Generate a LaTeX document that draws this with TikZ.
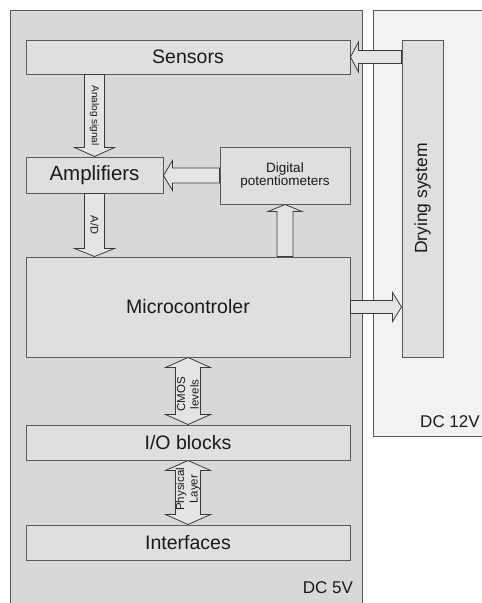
\documentclass[tikz,border=0pt]{standalone}
\usepackage{fontspec}
\setmainfont{Liberation Sans}
\usepackage{tikz}
\usetikzlibrary{calc,positioning}

\definecolor{zonefive}{HTML}{D8D8D8}
\definecolor{zonetwelve}{HTML}{F2F2F2}
\definecolor{boxfill}{HTML}{DFDFDF}
\definecolor{edgegray}{HTML}{5A5A5A}
\definecolor{arrowedge}{HTML}{3A3A3A}
\definecolor{arrowfill}{HTML}{E4E4E4}
\definecolor{inkgray}{HTML}{1A1A1A}

% hollow block arrow: #1 shaft half width, #2 head half width, #3 head length, #4 from, #5 to
\newcommand{\fatarrow}[5]{%
  \coordinate (fa-b) at ($(#5)!#3!(#4)$);
  \filldraw[fat] ($(#4)!#1!90:(#5)$) -- ($(fa-b)!#1!90:(#5)$) -- ($(fa-b)!#2!90:(#5)$)
    -- (#5) -- ($(fa-b)!#2!-90:(#5)$) -- ($(fa-b)!#1!-90:(#5)$) -- ($(#4)!#1!-90:(#5)$) -- cycle;
}
% same with a head at both ends
\newcommand{\fatdouble}[5]{%
  \coordinate (fa-a) at ($(#4)!#3!(#5)$);
  \coordinate (fa-b) at ($(#5)!#3!(#4)$);
  \filldraw[fat] (#4) -- ($(fa-a)!#2!90:(#5)$) -- ($(fa-a)!#1!90:(#5)$) -- ($(fa-b)!#1!90:(#5)$)
    -- ($(fa-b)!#2!90:(#5)$) -- (#5) -- ($(fa-b)!#2!-90:(#5)$) -- ($(fa-b)!#1!-90:(#5)$)
    -- ($(fa-a)!#1!-90:(#5)$) -- ($(fa-a)!#2!-90:(#5)$) -- cycle;
}

\begin{document}
\begin{tikzpicture}[
        x=1pt, y=-1pt,
        every node/.style={text=inkgray},
        zone/.style={rectangle, draw=edgegray, line width=1pt, inner sep=0pt, anchor=north west},
        block/.style={rectangle, draw=edgegray, fill=boxfill, line width=1pt, inner sep=0pt, align=center, font=\fontsize{19.5}{22}\selectfont},
        fat/.style={draw=arrowedge, fill=arrowfill, line width=0.8pt, line join=miter},
        tag/.style={inner sep=0pt, align=center, font=\fontsize{10}{12}\selectfont},
        supply/.style={inner sep=0pt, font=\fontsize{17}{20}\selectfont}
        ]

        \useasboundingbox (0,0) rectangle (482,603);
        \clip (0,0) rectangle (482,603);

        % Supply zones (both run past the page edge)
        \node[zone, fill=zonefive, minimum width=352pt, minimum height=600pt] (fivezone) at (10,10) {};
        \node[zone, fill=zonetwelve, minimum width=115pt, minimum height=426pt] (twelvezone) at (373,10) {};
        \node[supply] (fivelabel) at (328,588) {DC 5V};
        \node[supply] (twelvelabel) at (450,422) {DC 12V};

        % Blocks
        \node[block, minimum width=324pt, minimum height=34pt] (sensors) at (188,57) {Sensors};
        \node[block, minimum width=137pt, minimum height=36pt, font=\fontsize{20.5}{22}\selectfont] (amp) at (94.5,175) {Amplifiers};
        \node[block, minimum width=130pt, minimum height=57pt, font=\fontsize{13.5}{13.5}\selectfont] (digipot) at (285,175.5) {Digital\\potentiometers};
        \node[block, minimum width=324pt, minimum height=100pt] (micro) at (188,307) {Microcontroler};
        \node[block, minimum width=324pt, minimum height=35pt] (io) at (188,442.5) {I/O blocks};
        \node[block, minimum width=324pt, minimum height=35pt] (iface) at (188,542.5) {Interfaces};
        \node[block, minimum width=41pt, minimum height=317pt] (drying) at (422.5,198.5) {};
        \node[rotate=90, inner sep=0pt, font=\fontsize{17.5}{20}\selectfont] (dryinglabel) at (drying) {Drying system};

        % Block arrows
        \fatarrow{6.5pt}{15pt}{8pt}{drying.west |- sensors.east}{sensors.east}
        \fatarrow{10pt}{20pt}{9pt}{sensors.south -| amp}{amp.north}
        \fatarrow{7.5pt}{15pt}{9pt}{digipot.west}{amp.east |- digipot.west}
        \fatarrow{10pt}{20pt}{8pt}{amp.south}{micro.north -| amp}
        \fatarrow{8pt}{17pt}{7pt}{micro.north -| digipot}{digipot.south}
        \fatarrow{6.5pt}{14.5pt}{9pt}{micro.east}{drying.west |- micro.east}
        \fatdouble{12.5pt}{22.5pt}{10pt}{micro.south}{io.north}
        \fatdouble{12.5pt}{22.5pt}{10pt}{io.south}{iface.north}

        % Arrow labels
        \node[tag, rotate=-90] (analoglabel) at ($(sensors.south -| amp)!0.5!(amp.north)$) {Analog signal};
        \node[tag, rotate=-90, font=\fontsize{11}{12}\selectfont] (adlabel) at ($(amp.south)!0.5!(micro.north -| amp)$) {A/D};
        \node[tag, rotate=90, font=\fontsize{11.5}{13.5}\selectfont] (cmoslabel) at ($(micro.south)!0.55!(io.north)$) {CMOS\\levels};
        \node[tag, rotate=90, font=\fontsize{11.5}{13.5}\selectfont] (phylabel) at ($(io.south)!0.45!(iface.north)$) {Physical\\Layer};

    \end{tikzpicture}
\end{document}
